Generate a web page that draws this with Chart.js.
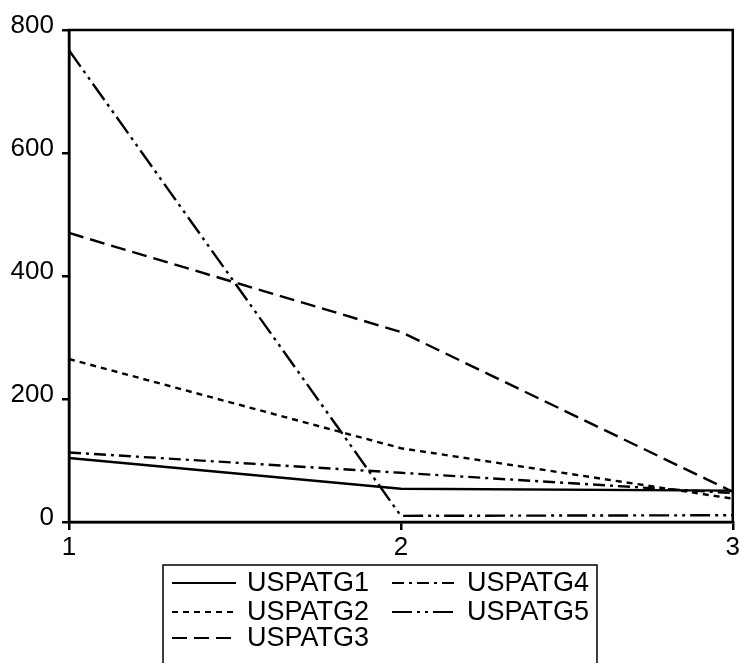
<!DOCTYPE html>
<html>
<head>
<meta charset="utf-8">
<script src="https://cdn.jsdelivr.net/npm/chart.js@4"></script>
<style>
  html, body { margin: 0; padding: 0; background: #fff; }
  #wrap { width: 742px; height: 663px; }
</style>
</head>
<body>
<div id="wrap"><canvas id="chart" width="742" height="663"></canvas></div>
<script>
// Data
const categories = ['1', '2', '3'];
const uspatg1 = [104, 54, 51];
const uspatg2 = [265, 120, 38];
const uspatg3 = [470, 309, 49];
const uspatg4 = [113, 80, 47];
const uspatg5 = [767, 10, 11];
const yTicks = [0, 200, 400, 600, 800];

const FONT = 'Liberation Sans, Arial, sans-serif';

// Frame around plot area and legend box below it
const framePlugin = {
    id: 'frame',
    afterDraw(chart) {
        const ctx = chart.ctx;
        const a = chart.chartArea;
        ctx.save();
        ctx.strokeStyle = '#000';
        ctx.lineWidth = 2.5;
        ctx.setLineDash([]);
        ctx.strokeRect(a.left, a.top, a.right - a.left, a.bottom - a.top);

        // legend
        const box = { x: 163, y: 565, w: 434, h: 110 };
        ctx.lineWidth = 1.5;
        ctx.strokeRect(box.x, box.y, box.w, box.h);
        const pos = [
            [172, 583], [172, 612], [172, 638],
            [392, 583], [392, 612]
        ];
        ctx.font = '27px ' + FONT;
        ctx.textBaseline = 'middle';
        ctx.fillStyle = '#000';
        chart.data.datasets.forEach((ds, i) => {
            const [x, y] = pos[i];
            ctx.beginPath();
            ctx.lineWidth = 2.2;
            ctx.setLineDash(ds.borderDash || []);
            ctx.moveTo(x, y);
            ctx.lineTo(x + 64, y);
            ctx.stroke();
            ctx.setLineDash([]);
            ctx.fillText(ds.label, x + 75, y + 1);
        });
        ctx.restore();
    }
};

function makeSet(label, data, dash) {
    return {
        label: label,
        data: data,
        borderColor: '#000',
        borderWidth: 2.4,
        borderDash: dash,
        pointRadius: 0,
        fill: false,
        tension: 0
    };
}

new Chart(document.getElementById('chart'), {
    type: 'line',
    data: {
        labels: categories,
        datasets: [
            makeSet('USPATG1', uspatg1, []),
            makeSet('USPATG2', uspatg2, [6, 5]),
            makeSet('USPATG3', uspatg3, [15, 7]),
            makeSet('USPATG4', uspatg4, [12, 5, 3, 5]),
            makeSet('USPATG5', uspatg5, [20, 5, 3, 5, 3, 5])
        ]
    },
    options: {
        responsive: false,
        animation: false,
        layout: { padding: { top: 30, right: 8, left: 0, bottom: 0 } },
        plugins: {
            legend: { display: false },
            tooltip: { enabled: false }
        },
        scales: {
            x: {
                offset: false,
                grid: { drawOnChartArea: false, drawTicks: true, tickLength: 8, color: '#000', lineWidth: 2.5 },
                border: { color: '#000', width: 2.5 },
                ticks: { color: '#000', font: { family: FONT, size: 26 }, padding: 2, maxRotation: 0 },
                afterFit: s => { s.height = 141; }
            },
            y: {
                min: 0,
                max: 800,
                afterBuildTicks: s => { s.ticks = yTicks.map(v => ({ value: v })); },
                grid: { drawOnChartArea: false, drawTicks: true, tickLength: 7, color: '#000', lineWidth: 2.5 },
                border: { color: '#000', width: 2.5 },
                ticks: { color: '#000', font: { family: FONT, size: 26 }, padding: 8, labelOffset: -4 },
                afterFit: s => { s.width = 69; }
            }
        }
    },
    plugins: [framePlugin]
});
</script>
</body>
</html>
